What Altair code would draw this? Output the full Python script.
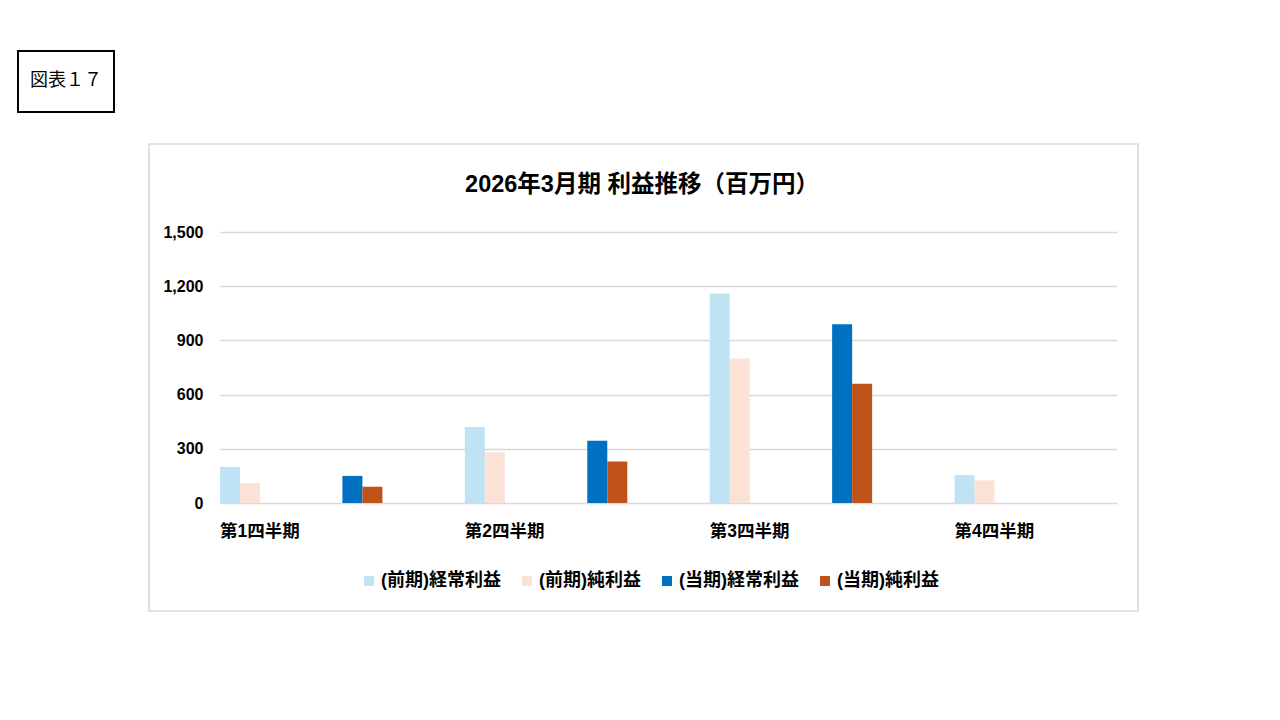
import altair as alt
import pandas as pd

quarters = ["第1四半期", "第2四半期", "第3四半期", "第4四半期"]
series = ["(前期)経常利益", "(前期)純利益", "(当期)経常利益", "(当期)純利益"]
prev_ordinary = [200, 420, 1160, 155]
prev_net = [110, 280, 800, 125]
cur_ordinary = [150, 345, 990, None]
cur_net = [90, 230, 660, None]
colors = ["#BFE3F4", "#FBE1D6", "#0070C0", "#C0531A"]
y_ticks = [0, 300, 600, 900, 1200, 1500]

rows = []
for i, q in enumerate(quarters):
    for s, vals, period, kind in [
        (series[0], prev_ordinary, "前期", "経常"),
        (series[1], prev_net, "前期", "純"),
        (series[2], cur_ordinary, "当期", "経常"),
        (series[3], cur_net, "当期", "純"),
    ]:
        v = vals[i]
        if v is None:
            continue
        rows.append({"slot": q + period, "series": s, "kind": kind, "value": v})
df = pd.DataFrame(rows)
slot_domain = [q + p for q in quarters for p in ["前期", "当期"]]

FONT = "Liberation Sans, Noto Sans CJK JP"
W, H = 897, 271

bars = alt.Chart(df).mark_bar().encode(
    x=alt.X("slot:N", sort=slot_domain,
            scale=alt.Scale(domain=slot_domain, paddingInner=0.6733, paddingOuter=0, align=0),
            axis=alt.Axis(title=None, domain=False, ticks=False, labelAngle=0,
                          labelExpr="indexof(datum.value, '前期') >= 0 ? substring(datum.value, 0, 5) : ''",
                          labelAlign="left", labelOffset=-20, labelPadding=19, labelFontSize=17.5,
                          labelFontWeight="bold", labelColor="#000000", labelFont=FONT,
                          labelOverlap=False, labelBound=False)),
    xOffset=alt.XOffset("kind:N", sort=["経常", "純"],
                        scale=alt.Scale(domain=["経常", "純"], paddingInner=0, paddingOuter=0)),
    y=alt.Y("value:Q", scale=alt.Scale(domain=[0, 1500], nice=False),
            axis=alt.Axis(title=None, values=y_ticks, format=",.0f", domain=False, ticks=False,
                          gridColor="#D9D9D9", gridWidth=1.6, labelPadding=17, labelFontSize=16,
                          labelFontWeight="bold", labelColor="#000000", labelFont=FONT)),
    color=alt.Color("series:N", sort=series,
                    scale=alt.Scale(domain=series, range=colors),
                    legend=alt.Legend(title=None, orient="none", direction="horizontal",
                                      legendX=140, legendY=340, symbolType="square",
                                      symbolSize=100, symbolStrokeWidth=0, labelFontSize=18,
                                      labelFontWeight="bold", labelColor="#000000", labelFont=FONT,
                                      labelOffset=3, columnPadding=17)),
)

one = alt.Data(values=[{}])

frame = alt.Chart(one).mark_rect(fill=None, stroke="#D9D9D9", strokeWidth=1.6).encode(
    x=alt.value(-71), x2=alt.value(918), y=alt.value(-88), y2=alt.value(379))

title = alt.Chart(one).mark_text(text="2026年3月期 利益推移（百万円）", fontSize=23.5, fontWeight="bold",
                                 font=FONT, color="#000000", baseline="middle", align="center").encode(
    x=alt.value(422), y=alt.value(-47))

box = alt.Chart(one).mark_rect(fill="#FFFFFF", stroke="#000000", strokeWidth=2).encode(
    x=alt.value(-202), x2=alt.value(-106), y=alt.value(-181), y2=alt.value(-120))

box_text = alt.Chart(one).mark_text(text="図表１７", fontSize=18, font="Noto Sans CJK JP",
                                    color="#000000", baseline="middle", align="center").encode(
    x=alt.value(-154), y=alt.value(-151))

chart = alt.layer(frame, bars, title, box, box_text).properties(
    width=W, height=H,
    background="#FFFFFF",
    autosize=alt.AutoSizeParams(type="none"),
    padding={"left": 212, "top": 224, "right": 150, "bottom": 200},
).configure_view(strokeWidth=0, stroke=None)

chart.save("out.html", embed_options={"renderer": "svg", "actions": False})
